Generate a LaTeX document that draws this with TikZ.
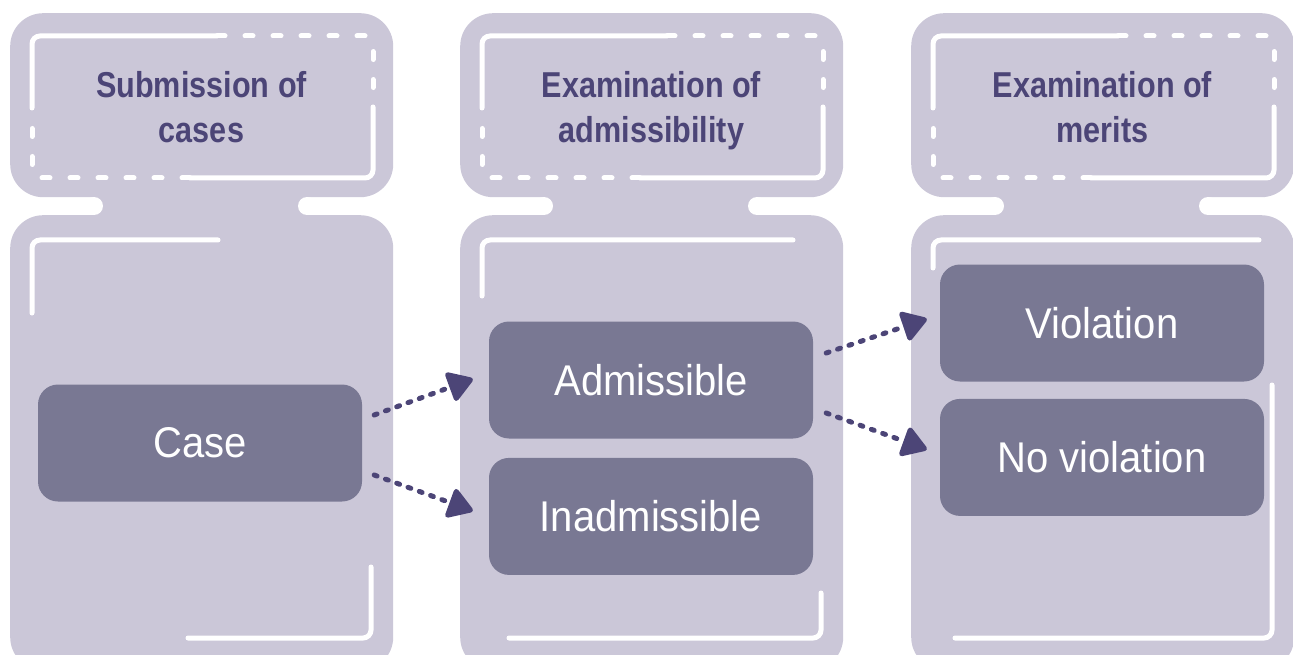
\documentclass[tikz,border=0pt]{standalone}
\usepackage{fontspec}
\usepackage{xcolor}
\usetikzlibrary{positioning,calc,arrows.meta}
\newfontfamily\headfont[FakeStretch=0.85]{Liberation Sans}
\newfontfamily\itemfont[FakeStretch=0.93]{Liberation Sans}
\definecolor{panelfill}{HTML}{CBC7D8}
\definecolor{itemfill}{HTML}{797893}
\definecolor{darkpurple}{HTML}{4C4577}

\begin{document}
\begin{tikzpicture}[x=1pt, y=-1pt,
    panel/.style={fill=panelfill, rounded corners=33pt, minimum width=383pt, inner sep=0pt, anchor=north west},
    header/.style={panel, minimum height=184pt},
    body/.style={panel, minimum height=455pt},
    title/.style={text=darkpurple, align=center, anchor=base, inner sep=0pt,
        font=\headfont\bfseries\fontsize{36}{45}\selectfont},
    item/.style={fill=itemfill, rounded corners=20pt, minimum width=324pt, minimum height=117pt,
        inner sep=0pt, text=white, font=\itemfont\fontsize{43}{50}\selectfont},
    deco/.style={white, line width=5pt, line cap=round, rounded corners=8pt},
    decodash/.style={deco, dash pattern=on 8pt off 20pt},
    flow/.style={darkpurple, line width=5pt, line cap=round, dash pattern=on 3pt off 9pt,
        -{Triangle[length=27pt, width=33pt, round]}}]
    \useasboundingbox (0,0) rectangle (1293,655);
    \clip (0,0) rectangle (1293,655);

    % three stages: title block on top, stage body below
    \foreach \cx/\topend/\leftend/\rightstart/\botend in {10/218/313/567/188, 460/793/296/593/509, 911/1259/268/385/955} {
        \node[header] (head\cx) at (\cx,13) {};
        \node[body] (body\cx) at (\cx,215) {};
        % neck between title and body
        \fill[panelfill] (\cx+84,195) rectangle (\cx+297,217);
        \fill[white] (\cx+84,206) circle (9pt) (\cx+297,206) circle (9pt);
        % title frame, half solid and half dashed
        \draw[deco] (\cx+22,108) -- (\cx+22,36) -- (\cx+207,36);
        \draw[decodash] (\cx+207,36) -- (\cx+363,36) -- (\cx+363,100);
        \draw[deco] (\cx+363,107) -- (\cx+363,178) -- (\cx+180,178);
        \draw[decodash] (\cx+180,178) -- (\cx+22,178) -- (\cx+22,110);
        % body corners
        \draw[deco] (\cx+22,\leftend) -- (\cx+22,240) -- (\topend,240);
        \draw[deco] (\cx+361,\rightstart) -- (\cx+361,638) -- (\botend,638);
    }

    \node[title] (submtitle) at (201.5,143) {Submission of\\cases};
    \node[title] (admisstitle) at (651.5,143) {Examination of\\admissibility};
    \node[title] (meritstitle) at (1102.5,143) {Examination of\\merits};

    \node[item] (case) at (200,443) {Case};
    \node[item] (adm) at (651,380) {Admissible};
    \node[item, below=19pt of adm] (inadm) {Inadmissible};
    \node[item] (viol) at (1102,323) {Violation};
    \node[item, below=17pt of viol] (noviol) {No violation};

    \draw[flow] ($(case.east)+(12,-28)$) -- ($(adm.west)+(-16,-1)$);
    \draw[flow] ($(case.east)+(12,32)$) -- ($(inadm.west)+(-16,-5.5)$);
    \draw[flow] ($(adm.east)+(13,-27)$) -- ($(viol.west)+(-13,-4)$);
    \draw[flow] ($(adm.east)+(13,33)$) -- ($(noviol.west)+(-13,-8)$);
\end{tikzpicture}
\end{document}
